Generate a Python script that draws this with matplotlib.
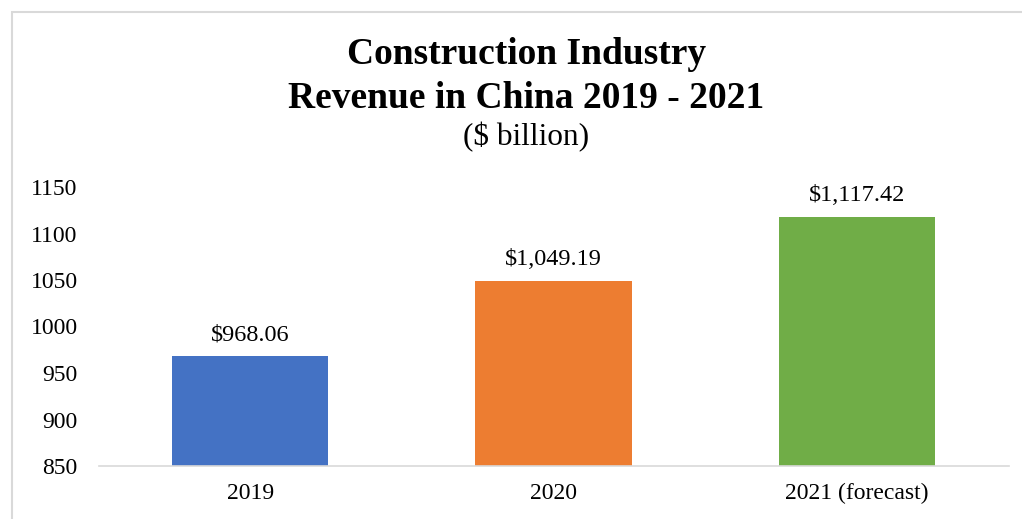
import matplotlib.pyplot as plt
from matplotlib.patches import Rectangle

years = ["2019", "2020", "2021 (forecast)"]
revenue = [968.06, 1049.19, 1117.42]
colors = ["#4472c4", "#ed7d31", "#70ad47"]

plt.rcParams["font.family"] = ["Liberation Serif", "DejaVu Serif"]

fig = plt.figure(figsize=(10.22, 5.19), dpi=100)
W, H = 1022, 519

# light chart frame, only the top and left edges fall inside the image
fig.patches.append(Rectangle((11.5 / W, -0.1), 1.2, 1 - 11.5 / H + 0.1,
                             transform=fig.transFigure, fill=False,
                             edgecolor="#d9d9d9", linewidth=1.5))

ax = fig.add_axes([98.5 / W, 1 - 466 / H, 910 / W, 279 / H])
x = range(len(years))
bars = ax.bar(x, revenue, width=0.515, color=colors, zorder=2)
ax.set_xlim(-0.5, 2.5)
ax.set_ylim(850, 1150)
ax.set_yticks(range(850, 1151, 50))
ax.set_xticks(list(x))
ax.set_xticklabels(years)

for b, v in zip(bars, revenue):
    ax.annotate(f"${v:,.2f}", (b.get_x() + b.get_width() / 2, v),
                xytext=(0, 8), textcoords="offset points",
                ha="center", va="bottom", fontsize=17.5)

for s in ["top", "right", "left"]:
    ax.spines[s].set_visible(False)
ax.spines["bottom"].set_color("#d9d9d9")
ax.spines["bottom"].set_linewidth(1.2)
ax.tick_params(axis="both", length=0, labelsize=17)
ax.tick_params(axis="y", pad=15)
ax.tick_params(axis="x", pad=12)

fig.text(0.515, 1 - 55 / H, "Construction Industry", ha="center", va="center",
         fontsize=27, fontweight="bold")
fig.text(0.515, 1 - 99 / H, "Revenue in China 2019 - 2021", ha="center",
         va="center", fontsize=27, fontweight="bold")
fig.text(0.515, 1 - 137 / H, "($ billion)", ha="center", va="center",
         fontsize=22.5)

fig.savefig("out.png", dpi=100)
